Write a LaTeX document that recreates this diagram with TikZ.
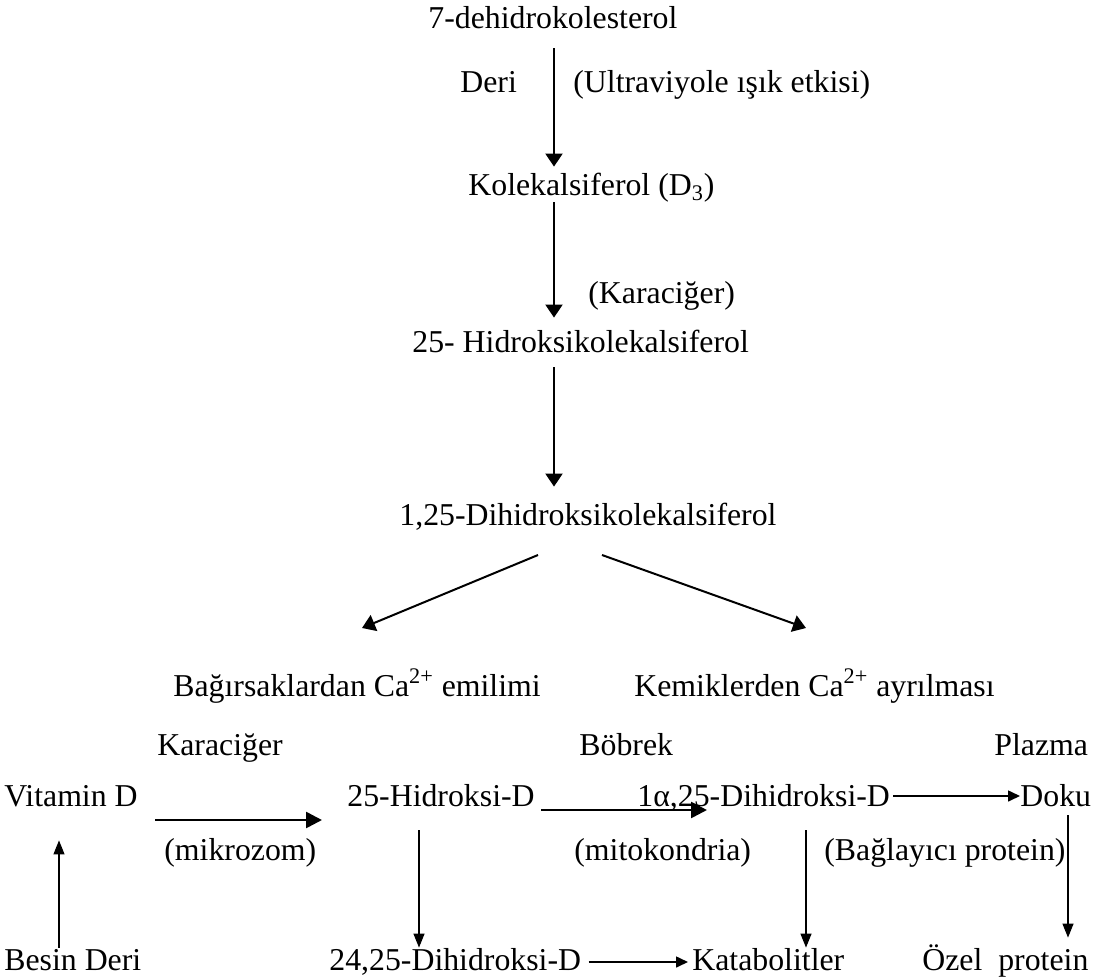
\documentclass[tikz,border=0pt]{standalone}
\usepackage{fontspec}
\setmainfont{Liberation Serif}
\usetikzlibrary{arrows.meta}

\tikzset{
  lbl/.style={inner sep=0pt, anchor=base west, text height=11pt, text depth=3.5pt},
  arr/.style={-{Triangle[length=6.5pt,width=8.5pt]}, line width=1pt},
  harr/.style={-{Triangle[length=8pt,width=8pt]}, line width=1.3pt},
  marr/.style={-{Triangle[length=6pt,width=5.5pt]}, line width=0.8pt},
  tarr/.style={-{Triangle[length=7pt,width=5.5pt]}, line width=0.6pt}
}

\begin{document}
\begin{tikzpicture}[x=0.5pt,y=-0.5pt]
    \fontsize{15.9}{19}\selectfont
    \useasboundingbox (0,0) rectangle (1099,980);

    % Ust zincir
    \node[lbl] (dhc) at (428,28) {7-dehidrokolesterol};
    \node[lbl] (deri) at (460,92) {Deri};
    \node[lbl] (uv) at (573,92) {(Ultraviyole ışık etkisi)};
    \node[lbl] (kol) at (468,195) {Kolekalsiferol (D\textsubscript{3})};
    \node[lbl] (kc1) at (588,303) {(Karaciğer)};
    \node[lbl] (hk) at (412,352) {25- Hidroksikolekalsiferol};
    \node[lbl] (dhk) at (399,525) {1,25-Dihidroksikolekalsiferol};

    % Etkiler
    \node[lbl] (bag) at (173,696) {Bağırsaklardan Ca\textsuperscript{2+} emilimi};
    \node[lbl] (kem) at (634,696) {Kemiklerden Ca\textsuperscript{2+} ayrılması};

    % Alt sema
    \node[lbl] (kc2) at (157,755) {Karaciğer};
    \node[lbl] (bob) at (579,755) {Böbrek};
    \node[lbl] (plz) at (994,755) {Plazma};
    \node[lbl] (vit) at (4,806) {Vitamin D};
    \node[lbl] (hd) at (347,806) {25-Hidroksi-D};
    \node[lbl] (dhd) at (637,806) {1α,25-Dihidroksi-D};
    \node[lbl] (dok) at (1020,806) {Doku};
    \node[lbl] (mik) at (164,860) {(mikrozom)};
    \node[lbl] (mit) at (574,860) {(mitokondria)};
    \node[lbl] (bgp) at (824,860) {(Bağlayıcı protein)};
    \node[lbl] (bes) at (4,970) {Besin Deri};
    \node[lbl] (dd) at (329,970) {24,25-Dihidroksi-D};
    \node[lbl] (kat) at (692,970) {Katabolitler};
    \node[lbl] (ozp) at (922,970) {Özel\ \ protein};

    % Dikey oklar
    \coordinate (ax) at (554,0);
    \draw[arr, shorten <=6.5pt, shorten >=3pt] (dhc.south -| ax) -- (kol.north -| ax);
    \draw[arr, shorten >=6pt] (kol.south -| ax) -- (hk.north -| ax);
    \draw[arr, shorten <=4pt, shorten >=8pt] (hk.south -| ax) -- (dhk.north -| ax);

    % Capraz oklar
    \coordinate (dl) at (538,555);
    \coordinate (dr) at (602,555);
    \coordinate (tl) at (362,628);
    \coordinate (tr) at (806,628);
    \draw[arr] (dl) -- (tl);
    \draw[arr] (dr) -- (tr);

    % Alt oklar
    \draw[harr] ([xshift=8.5pt,yshift=-7pt]vit.base east) -- ([xshift=-12.5pt,yshift=-7pt]hd.base west);
    \draw[harr] ([xshift=3pt,yshift=-2pt]hd.base east) -- ([xshift=35pt,yshift=-2pt]dhd.base west);
    \draw[marr] ([xshift=1.5pt,yshift=5pt]dhd.base east) -- ([yshift=5pt]dok.base west);
    \draw[marr] ([xshift=3.5pt,yshift=4pt]dd.base east) -- ([xshift=-2pt,yshift=4pt]kat.base west);
    \draw[tarr, shorten <=8.5pt] (hd.south -| 419,0) -- (dd.north -| 419,0);
    \draw[tarr, shorten <=8.5pt] (dhd.south -| 806,0) -- (kat.north -| 806,0);
    \draw[tarr, shorten <=1pt, shorten >=5pt] (dok.south -| 1068,0) -- (ozp.north -| 1068,0);
    \draw[tarr, shorten >=13.5pt] (bes.north -| 59,0) -- (vit.south -| 59,0);
\end{tikzpicture}
\end{document}
